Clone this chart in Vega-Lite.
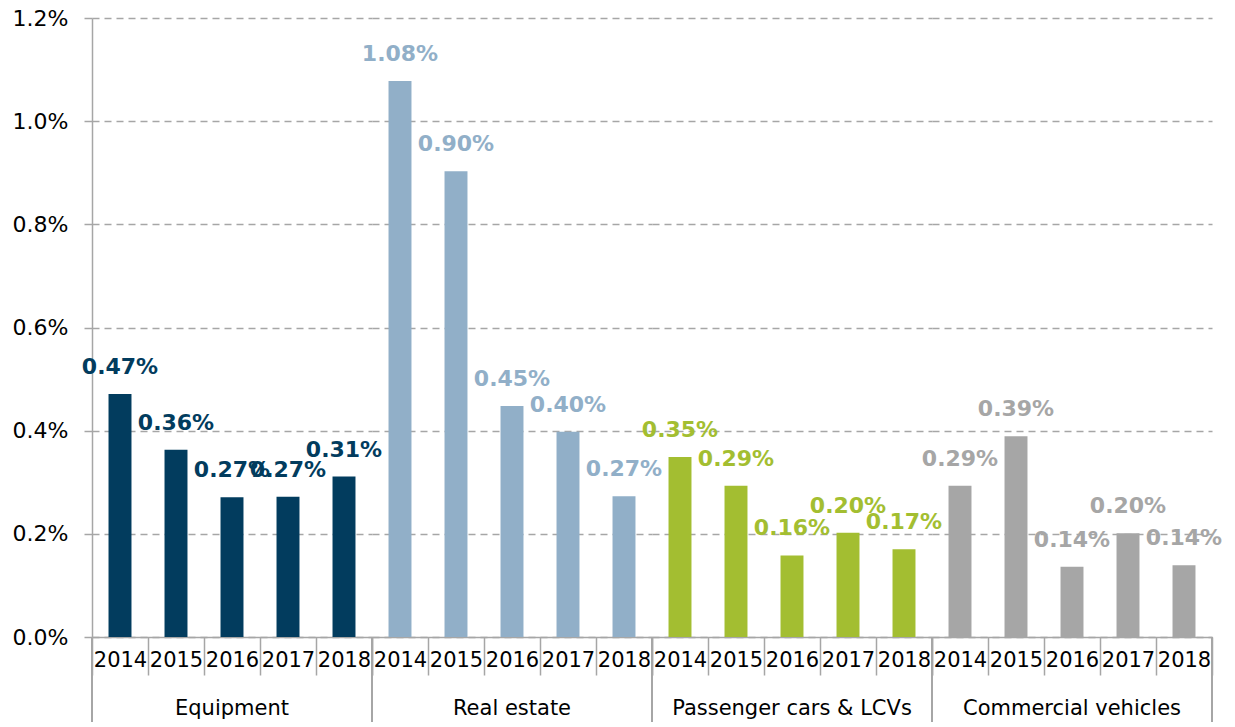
{
  "$schema": "https://vega.github.io/schema/vega-lite/v6.json",
  "background": "white",
  "padding": {"left": 12, "top": 7, "right": 5, "bottom": 0},
  "data": {"values": [
    {"category": "Equipment", "year": "2014", "rate": 0.00471},
    {"category": "Equipment", "year": "2015", "rate": 0.00363},
    {"category": "Equipment", "year": "2016", "rate": 0.00271},
    {"category": "Equipment", "year": "2017", "rate": 0.00272},
    {"category": "Equipment", "year": "2018", "rate": 0.00311},
    {"category": "Real estate", "year": "2014", "rate": 0.01078},
    {"category": "Real estate", "year": "2015", "rate": 0.00903},
    {"category": "Real estate", "year": "2016", "rate": 0.00448},
    {"category": "Real estate", "year": "2017", "rate": 0.00398},
    {"category": "Real estate", "year": "2018", "rate": 0.00273},
    {"category": "Passenger cars & LCVs", "year": "2014", "rate": 0.00349},
    {"category": "Passenger cars & LCVs", "year": "2015", "rate": 0.00293},
    {"category": "Passenger cars & LCVs", "year": "2016", "rate": 0.00158},
    {"category": "Passenger cars & LCVs", "year": "2017", "rate": 0.00202},
    {"category": "Passenger cars & LCVs", "year": "2018", "rate": 0.00170},
    {"category": "Commercial vehicles", "year": "2014", "rate": 0.00293},
    {"category": "Commercial vehicles", "year": "2015", "rate": 0.00389},
    {"category": "Commercial vehicles", "year": "2016", "rate": 0.00136},
    {"category": "Commercial vehicles", "year": "2017", "rate": 0.00201},
    {"category": "Commercial vehicles", "year": "2018", "rate": 0.00139}
  ]},
  "spacing": 0,
  "bounds": "flush",
  "facet": {
    "column": {
      "field": "category", "type": "nominal",
      "sort": ["Equipment", "Real estate", "Passenger cars & LCVs", "Commercial vehicles"],
      "header": {"title": null, "labelOrient": "bottom", "labelFont": "DejaVu Sans", "labelFontSize": 21, "labelColor": "black", "labelPadding": 22}
    }
  },
  "spec": {
    "width": 280,
    "height": 619,
    "encoding": {
      "x": {
        "field": "year", "type": "ordinal",
        "scale": {"paddingInner": 0, "paddingOuter": 0},
        "axis": {
          "title": null, "labelAngle": 0, "tickBand": "extent", "tickSize": 38,
          "tickColor": "#a6a6a6", "tickWidth": 1.5, "domainColor": "#a6a6a6", "domainWidth": 1.5,
          "labelFont": "DejaVu Sans", "labelFontSize": 21, "labelColor": "black", "labelPadding": -26
        }
      }
    },
    "layer": [
      {
        "mark": {"type": "bar", "width": {"band": 0.41}},
        "encoding": {
          "y": {
            "field": "rate", "type": "quantitative",
            "scale": {"domain": [0, 0.012], "nice": false},
            "axis": {
              "title": null, "format": ".1%", "values": [0, 0.002, 0.004, 0.006, 0.008, 0.01, 0.012],
              "labelFont": "DejaVu Sans", "labelFontSize": 22, "labelColor": "black", "labelPadding": 16,
              "tickSize": 8, "tickColor": "#a6a6a6", "tickWidth": 1.5,
              "domainColor": "#a6a6a6", "domainWidth": 1.5,
              "gridColor": "#a6a6a6", "gridDash": [7, 5], "gridWidth": 1.5
            }
          },
          "color": {
            "field": "category", "type": "nominal", "legend": null,
            "scale": {"domain": ["Equipment", "Real estate", "Passenger cars & LCVs", "Commercial vehicles"], "range": ["#023c5e", "#91afc8", "#a3be31", "#a6a6a6"]}
          }
        }
      },
      {
        "mark": {"type": "text", "dy": -20, "baseline": "alphabetic", "font": "DejaVu Sans", "fontWeight": "bold", "fontSize": 22},
        "encoding": {
          "y": {"field": "rate", "type": "quantitative"},
          "text": {"field": "rate", "type": "quantitative", "format": ".2%"},
          "color": {"field": "category", "type": "nominal", "legend": null}
        }
      },
      {
        "mark": {"type": "rule", "clip": false, "color": "#a6a6a6", "strokeWidth": 1.5},
        "encoding": {
          "x": {"datum": "2014", "bandPosition": 0},
          "y": {"datum": 0},
          "y2": {"datum": -0.00165}
        }
      },
      {
        "mark": {"type": "rule", "clip": false, "color": "#a6a6a6", "strokeWidth": 1.5},
        "encoding": {
          "x": {"datum": "2018", "bandPosition": 1},
          "y": {"datum": 0},
          "y2": {"datum": -0.00165}
        }
      }
    ]
  },
  "config": {"view": {"stroke": null}}
}
